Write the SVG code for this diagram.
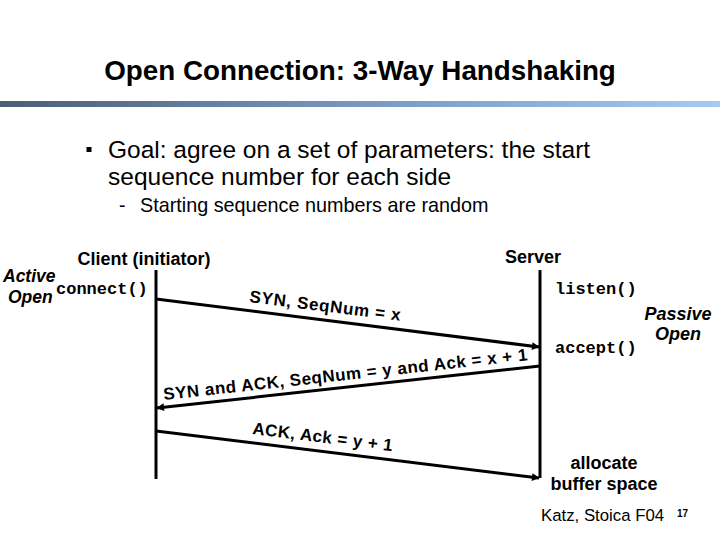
<svg xmlns="http://www.w3.org/2000/svg" width="720" height="540" viewBox="0 0 720 540">
<style>
text{font-family:"Liberation Sans",Arial,sans-serif;fill:#000}
.b{font-weight:bold}
.bi{font-weight:bold;font-style:italic}
.m{font-family:"Liberation Mono","Courier New",monospace;font-weight:bold;font-size:17px}
.life{stroke:#000;stroke-width:3;fill:none}
.msg{stroke:#000;stroke-width:3;fill:none;marker-end:url(#ah)}
.lbl{font-weight:bold;font-size:17px}
</style>
<defs>
<linearGradient id="bar" x1="0" y1="0" x2="1" y2="0">
<stop offset="0" stop-color="#4b5e74"/>
<stop offset="0.5" stop-color="#7898c0"/>
<stop offset="1" stop-color="#a3cbf3"/>
</linearGradient>
<marker id="ah" viewBox="0 0 10 10" refX="9" refY="5" markerWidth="3" markerHeight="2.6" orient="auto" markerUnits="strokeWidth">
<path d="M0,0 L10,5 L0,10 z" fill="#000"/>
</marker>
</defs>
<rect width="720" height="540" fill="#fff"/>
<g id="title">
<text class="b" x="360" y="80" font-size="27.8" text-anchor="middle">Open Connection: 3-Way Handshaking</text>
</g>
<rect x="0" y="101" width="720" height="6" fill="url(#bar)"/>
<g id="bullets">
<rect x="86.5" y="147" width="5" height="5" fill="#000"/>
<text x="108" y="158" font-size="24.5">Goal: agree on a set of parameters: the start</text>
<text x="108" y="185" font-size="24.5">sequence number for each side</text>
<text x="119" y="212" font-size="19.5">-</text>
<text x="140" y="212" font-size="19.8">Starting sequence numbers are random</text>
</g>
<g id="client">
<text class="b" x="144" y="265" font-size="18" text-anchor="middle">Client (initiator)</text>
<line class="life" x1="156" y1="270" x2="156" y2="479"/>
<text class="bi" x="3" y="282" font-size="17.5">Active</text>
<text class="bi" x="8" y="303" font-size="17.5">Open</text>
<text class="m" x="56" y="294">connect()</text>
</g>
<g id="server">
<text class="b" x="533" y="263" font-size="18" text-anchor="middle">Server</text>
<line class="life" x1="540" y1="270" x2="540" y2="478"/>
<text class="m" x="555" y="294">listen()</text>
<text class="m" x="555" y="353">accept()</text>
<text class="bi" x="678" y="320" font-size="18" text-anchor="middle">Passive</text>
<text class="bi" x="678" y="340" font-size="18" text-anchor="middle">Open</text>
<text class="b" x="604" y="469" font-size="18" text-anchor="middle">allocate</text>
<text class="b" x="604" y="490" font-size="18" text-anchor="middle">buffer space</text>
</g>
<g id="connectors">
<line class="msg" x1="156" y1="299" x2="539" y2="347"/>
<line class="msg" x1="540" y1="366" x2="157" y2="408"/>
<line class="msg" x1="156" y1="431" x2="539" y2="478"/>
</g>
<g id="labels">
<text class="lbl" transform="translate(249,302) rotate(7.1)" textLength="152" lengthAdjust="spacing">SYN, SeqNum = x</text>
<text class="lbl" transform="translate(164,400) rotate(-6.24)" textLength="366" lengthAdjust="spacing">SYN and ACK, SeqNum = y and Ack = x + 1</text>
<text class="lbl" transform="translate(252,434) rotate(7)" textLength="141" lengthAdjust="spacing">ACK, Ack = y + 1</text>
</g>
<g id="footer">
<text x="541" y="521" font-size="16.8">Katz, Stoica F04</text>
<text class="b" x="677" y="517" font-size="10">17</text>
</g>
</svg>
